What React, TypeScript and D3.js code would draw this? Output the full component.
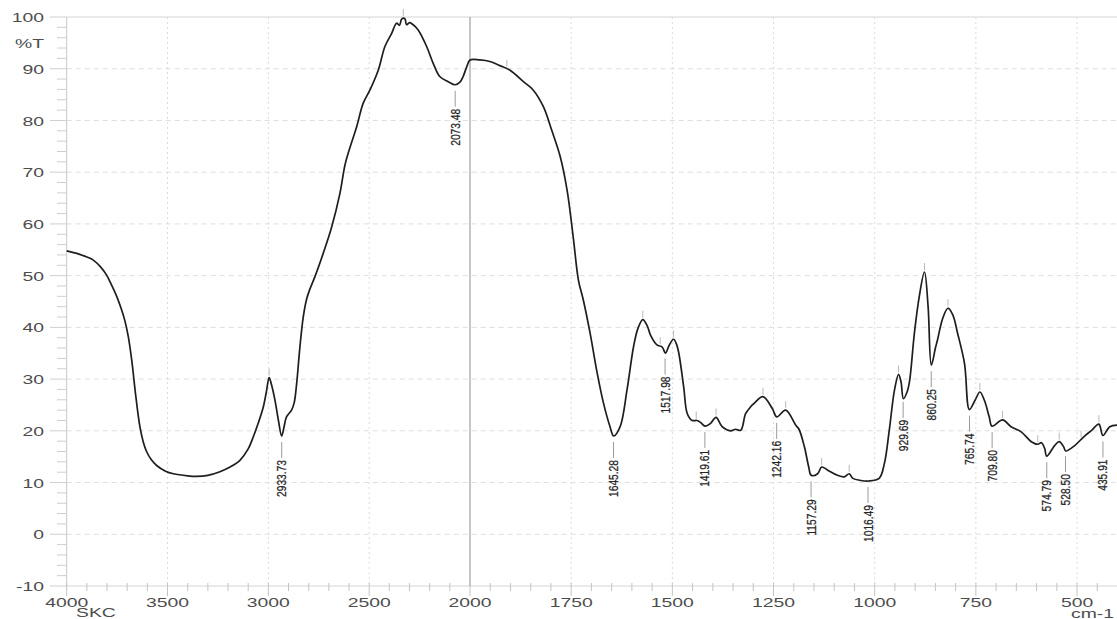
import React from "react";
import * as d3 from "d3";

// FTIR transmittance spectrum (wavenumber in cm-1, %T)
const wavenumber = [
  4000, 3950, 3900, 3868, 3830, 3802, 3785, 3752, 3727, 3711, 3695, 3678, 3657, 3637, 3620, 3604,
  3580, 3554, 3510, 3471, 3400, 3356, 3300, 3240, 3190, 3141, 3100, 3075, 3050, 3025, 3010,
  2996, 2985, 2967, 2950, 2934, 2922, 2910, 2885, 2872, 2860, 2844, 2827, 2810, 2794, 2769,
  2728, 2686, 2645, 2620, 2599, 2562, 2530, 2496, 2455, 2422, 2389, 2364, 2350, 2340, 2331,
  2322, 2315, 2300, 2285, 2257, 2215, 2182, 2150, 2108, 2073, 2050, 2034, 2015, 2000, 1976,
  1951, 1926, 1901, 1868, 1844, 1819, 1798, 1777, 1760, 1745, 1732, 1720, 1703, 1687, 1670,
  1654, 1645, 1629, 1612, 1596, 1585, 1573, 1562, 1554, 1538, 1525, 1517, 1508, 1497, 1490,
  1484, 1472, 1463, 1451, 1439, 1430, 1419, 1406, 1392, 1377, 1356, 1344, 1331, 1319, 1307,
  1298, 1276, 1253, 1242, 1220, 1195, 1187, 1174, 1163, 1157, 1141, 1131, 1116, 1092, 1075,
  1063, 1054, 1034, 1016, 989, 976, 964, 951, 941, 935, 929, 920, 914, 902, 890,
  877, 868, 860, 850, 845, 832, 819, 807, 795, 778, 766, 752, 740, 729, 717,
  710, 684, 663, 638, 613, 597, 588, 580, 575, 555, 544, 533, 528, 505, 484,
  464, 446, 436, 419, 400,
];
const transmittance = [
  54.8, 54.3, 53.6, 53.0, 51.6, 50.1, 48.8, 46.0, 43.3, 41.2, 38.3, 33.8, 26.6, 20.8, 17.8, 16.0,
  14.4, 13.3, 12.2, 11.7, 11.3, 11.2, 11.4, 12.1, 13.0, 14.3, 16.5, 18.8, 21.5, 24.6, 27.5,
  30.3, 29.0, 25.9, 22.0, 19.0, 20.8, 22.7, 24.0, 25.4, 29.0, 36.0, 42.0, 45.5, 47.4, 49.8,
  54.3, 59.4, 65.9, 71.4, 74.3, 78.8, 83.3, 85.9, 89.7, 94.3, 96.8, 98.8, 98.4, 99.5, 99.8,
  99.6, 98.5, 98.9, 98.6, 97.5, 94.3, 91.0, 88.5, 87.5, 86.9, 87.4, 88.5, 90.5, 91.7, 91.7,
  91.4, 90.6, 89.7, 87.5, 85.9, 82.7, 78.1, 73.0, 66.5, 57.5, 49.1, 45.3, 38.8, 31.7, 25.3,
  20.8, 19.0, 20.8, 27.9, 36.2, 39.8, 41.5, 40.3, 38.5, 36.6, 36.2, 35.0, 36.5, 37.7, 36.8,
  35.0, 28.5, 23.3, 22.0, 22.0, 21.6, 20.9, 21.4, 22.6, 20.8, 20.0, 20.3, 20.1, 23.3, 24.6,
  25.3, 26.6, 24.3, 22.7, 24.0, 21.1, 20.3, 17.0, 13.0, 11.4, 11.7, 13.0, 12.4, 11.4, 11.1,
  11.7, 10.8, 10.4, 10.3, 10.8, 13.7, 20.1, 27.9, 30.9, 29.5, 26.2, 27.5, 29.5, 38.8, 45.9,
  50.7, 44.0, 32.7, 36.0, 37.5, 41.7, 43.7, 42.4, 38.8, 33.0, 24.1, 25.9, 27.5, 25.9, 22.7,
  20.9, 22.1, 20.8, 19.8, 17.9, 17.4, 17.7, 16.6, 15.1, 17.2, 17.9, 16.9, 16.1, 17.2, 18.8,
  20.1, 21.3, 19.1, 20.8, 21.1,
];

// Picked band positions (labelled) and the unlabelled maxima marks
const peakLabels = [
  2933.73, 2073.48, 1645.28, 1517.98, 1419.61, 1242.16, 1157.29, 1016.49,
  929.69, 860.25, 765.74, 709.8, 574.79, 528.5, 435.91,
];
const peakMarks = [
  2996, 2331, 1909, 1573, 1530, 1497, 1441, 1392, 1276, 1220, 1131, 1063,
  941, 877, 819, 740, 684, 597, 544, 490, 446,
];

const xTicks = [4000, 3500, 3000, 2500, 2000, 1750, 1500, 1250, 1000, 750, 500];
const yTicks = [100, 90, 80, 70, 60, 50, 40, 30, 20, 10, 0, -10];

const W = 1117;
const H = 619;
const LEFT = 66.7;
const TOP = 17;
const BOTTOM = 586;
const RIGHT = 1117.5;

// Split wavenumber axis: the region below 2000 cm-1 is expanded twofold
const x = d3.scaleLinear().domain([4000, 2000, 400]).range([LEFT, 470, RIGHT]);
const y = d3.scaleLinear().domain([-10, 100]).range([BOTTOM, TOP]);

const points: [number, number][] = wavenumber.map((w, i) => [w, transmittance[i]]);

function valueAt(w: number): number {
  for (let i = 0; i < points.length - 1; i++) {
    const [w0, t0] = points[i];
    const [w1, t1] = points[i + 1];
    if (w <= w0 && w >= w1) {
      const f = (w0 - w) / (w0 - w1);
      return t0 + (t1 - t0) * f;
    }
  }
  return points[points.length - 1][1];
}

const AXIS_FONT = "'Liberation Sans', Arial, Helvetica, sans-serif";
const AXIS_COLOR = "#4d4d4d";

function WideText(props: { x: number; y: number; anchor: "start" | "middle" | "end"; children: string }) {
  return (
    <text
      transform={`translate(${props.x},${props.y}) scale(1.55,1)`}
      textAnchor={props.anchor}
      dominantBaseline="central"
      fontFamily={AXIS_FONT}
      fontSize={12.5}
      fill={AXIS_COLOR}
    >
      {props.children}
    </text>
  );
}

export default function App() {
  const line = d3
    .line<[number, number]>()
    .x((d) => x(d[0]))
    .y((d) => y(d[1]))
    .curve(d3.curveCatmullRom.alpha(0.5));

  // minor ticks: every 100 cm-1 above 2000, every 50 cm-1 below
  const minorX: number[] = [];
  for (let w = 4000; w > 2000; w -= 100) minorX.push(w);
  for (let w = 2000; w >= 400; w -= 50) minorX.push(w);
  const minorY: number[] = [];
  for (let t = -10; t <= 100; t += 2) minorY.push(t);

  return (
    <svg
      width={W}
      height={H}
      style={{ position: "absolute", left: 0, top: 0, background: "#fff" }}
    >
      {/* horizontal grid */}
      {yTicks.map((t) => (
        <line
          key={`hg${t}`}
          x1={LEFT}
          x2={W}
          y1={y(t)}
          y2={y(t)}
          stroke={t === 100 || t === -10 ? "#d4d4d4" : "#dedede"}
          strokeWidth={1}
          strokeDasharray={t === 100 || t === -10 ? undefined : "5 4"}
        />
      ))}
      {/* vertical grid */}
      {xTicks
        .filter((w) => w !== 4000)
        .map((w) => (
          <line
            key={`vg${w}`}
            x1={x(w)}
            x2={x(w)}
            y1={TOP}
            y2={BOTTOM}
            stroke={w === 2000 ? "#a8a8a8" : "#dcdcdc"}
            strokeWidth={w === 2000 ? 1.3 : 1}
            strokeDasharray={w === 2000 ? undefined : "2 3"}
          />
        ))}
      {/* y axis */}
      <line x1={LEFT} x2={LEFT} y1={TOP} y2={BOTTOM} stroke="#c8c8c8" />
      {minorY.map((t) => (
        <line
          key={`my${t}`}
          x1={t % 10 === 0 ? 50 : 57}
          x2={LEFT}
          y1={y(t)}
          y2={y(t)}
          stroke="#cfcfcf"
        />
      ))}
      {/* x axis ticks */}
      {minorX.map((w) => (
        <line
          key={`mx${w}`}
          x1={x(w)}
          x2={x(w)}
          y1={BOTTOM - 3}
          y2={xTicks.includes(w) ? BOTTOM + 10 : BOTTOM + 5}
          stroke="#c4c4c4"
        />
      ))}

      {/* axis labels */}
      {yTicks.map((t) => (
        <WideText key={`yl${t}`} x={44} y={y(t) + 0.5} anchor="end">
          {String(t)}
        </WideText>
      ))}
      <WideText x={44} y={43} anchor="end">%T</WideText>
      {xTicks.map((w) => (
        <WideText key={`xl${w}`} x={x(w)} y={602.5} anchor="middle">
          {String(w)}
        </WideText>
      ))}
      <WideText x={76} y={612.5} anchor="start">SKC</WideText>
      <WideText x={1071} y={613} anchor="start">cm-1</WideText>

      {/* maxima marks */}
      {peakMarks.map((w) => {
        const py = y(valueAt(w));
        return (
          <line
            key={`pm${w}`}
            x1={x(w)}
            x2={x(w)}
            y1={py - 9}
            y2={py - 2}
            stroke="#b8b8b8"
            strokeWidth={1}
          />
        );
      })}

      {/* spectrum */}
      <path d={line(points) ?? ""} fill="none" stroke="#1e1e1e" strokeWidth={1.7} strokeLinejoin="round" />

      {/* band labels */}
      {peakLabels.map((w) => {
        const px = x(w);
        const py = y(valueAt(Math.round(w)));
        return (
          <g key={`pl${w}`}>
            <line x1={px} x2={px} y1={py + 6} y2={py + 22} stroke="#9a9a9a" strokeWidth={1} />
            <text
              transform={`translate(${px},${py + 24}) rotate(-90) scale(0.76,1)`}
              textAnchor="end"
              dominantBaseline="central"
              fontFamily={AXIS_FONT}
              fontSize={13.5}
              fill="#262626"
              stroke="#262626"
              strokeWidth={0.25}
            >
              {w.toFixed(2)}
            </text>
          </g>
        );
      })}
    </svg>
  );
}
